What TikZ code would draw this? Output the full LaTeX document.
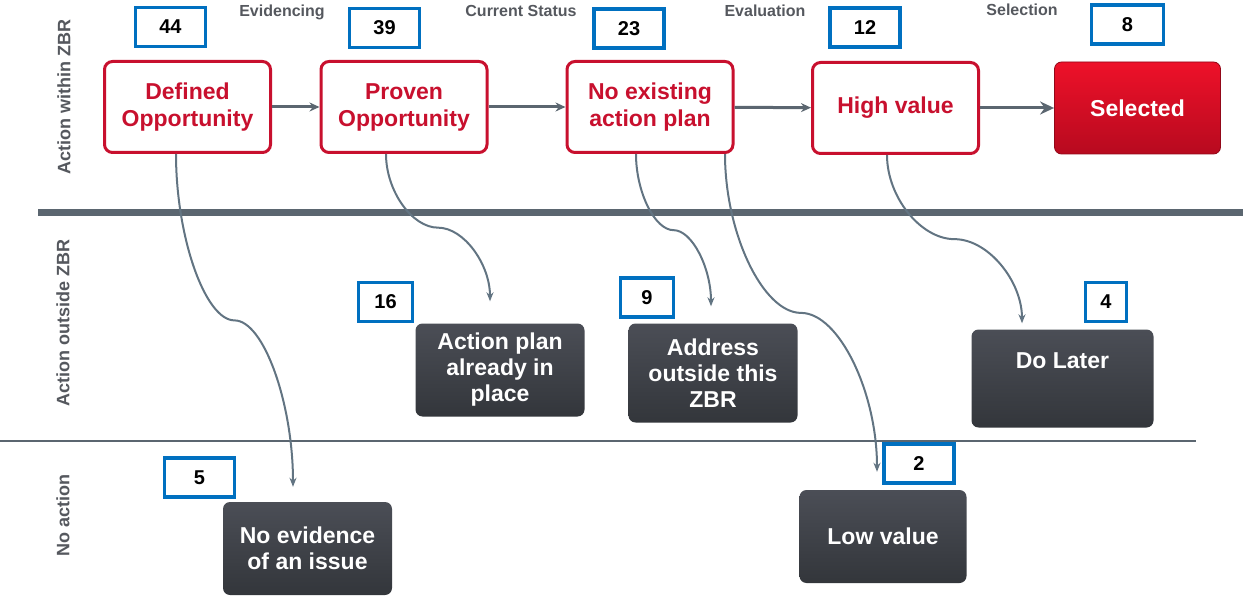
\documentclass[tikz,border=0pt]{standalone}
\usepackage{fontspec}
\setmainfont{Liberation Sans}
\usetikzlibrary{arrows.meta,calc}
\definecolor{zbrred}{HTML}{C8102E}
\definecolor{zbrblue}{HTML}{0070C0}
\definecolor{zbrgrey}{HTML}{5B6670}
\definecolor{linkgrey}{HTML}{627482}
\definecolor{labelgrey}{HTML}{55585E}
\definecolor{darktop}{HTML}{4B4E56}
\definecolor{darkbot}{HTML}{33363B}
\definecolor{seltop}{HTML}{EE1129}
\definecolor{selbot}{HTML}{B70A1F}
\tikzset{
  stage/.style={draw=zbrred,line width=3pt,rounded corners=8pt,fill=white,
    minimum width=166pt,minimum height=91pt,align=center,text=zbrred,
    font=\bfseries\fontsize{23}{27}\selectfont},
  chosen/.style={draw=selbot!80!black,line width=0.8pt,rounded corners=7pt,
    top color=seltop,bottom color=selbot,minimum width=166pt,minimum height=92pt,
    text=white,font=\bfseries\fontsize{23}{27}\selectfont},
  outcome/.style={rounded corners=7pt,top color=darktop,bottom color=darkbot,
    minimum width=169pt,minimum height=93pt,align=center,text=white,
    font=\bfseries\fontsize{23}{26}\selectfont},
  tally/.style={draw=zbrblue,line width=3.5pt,fill=white,minimum width=70pt,
    minimum height=39pt,inner sep=0pt,font=\bfseries\fontsize{20}{24}\selectfont},
  phase/.style={text=labelgrey,anchor=base,font=\bfseries\fontsize{16}{19}\selectfont},
  lane/.style={text=labelgrey,rotate=90,font=\bfseries\fontsize{18}{21}\selectfont},
  flow/.style={draw=zbrgrey,line width=3pt,-{Stealth[length=10pt,width=9pt]}},
  link/.style={draw=linkgrey,line width=2pt,-{Stealth[length=9pt,width=7pt]}}
}
% curved elbow connector: down, across at half height, down again
\newcommand{\hooklink}[2]{%
  \draw[link] let \p1=(#1), \p2=(#2) in
    (\p1) .. controls (\x1,{\y1+(\y2-\y1)/4}) and ({\x1+(\x2-\x1)/4},{(\y1+\y2)/2})
    .. ({(\x1+\x2)/2},{(\y1+\y2)/2})
    .. controls ({\x1+3*(\x2-\x1)/4},{(\y1+\y2)/2}) and (\x2,{\y2-(\y2-\y1)/4}) .. (\p2);}
\begin{document}
\begin{tikzpicture}[x=1pt,y=-1pt]
  \useasboundingbox (0,0) rectangle (1243,596);
  % lane separators
  \draw[zbrgrey,line width=7pt] (38,213) -- (1243,213);
  \draw[zbrgrey,line width=1.5pt] (0,441) -- (1196,441);
  % lane and phase labels
  \node[lane] (laneIn) at (64,97) {Action within ZBR};
  \node[lane] (laneOut) at (63,323) {Action outside ZBR};
  \node[lane] (laneNone) at (63,515) {No action};
  \node[phase] (phEvid) at (282,17) {Evidencing};
  \node[phase] (phStatus) at (521,17) {Current Status};
  \node[phase] (phEval) at (765,17) {Evaluation};
  \node[phase] (phSel) at (1022,16) {Selection};
  % main stages
  \node[stage] (Defined) at (187.5,107) {Defined\\Opportunity};
  \node[stage] (Proven) at (404,107) {Proven\\Opportunity};
  \node[stage] (NoPlan) at (650,107) {No existing\\action plan};
  \node[stage] (High) at (895.5,108) {High value};
  \node[chosen] (Selected) at (1137.5,108) {Selected};
  % outcomes
  \node[outcome] (ActionPlan) at (500,370) {Action plan\\already in\\place};
  \node[outcome,minimum height=99pt] (Address) at (713,373) {Address\\outside this\\ZBR};
  \node[outcome,minimum width=182pt,minimum height=98pt,text depth=36pt] (DoLater) at (1062.5,378.5) {Do Later};
  \node[outcome] (NoEvid) at (307.5,548.5) {No evidence\\of an issue};
  \node[outcome,minimum width=167pt] (LowValue) at (883,536.5) {Low value};
  % counts
  \node[tally] (n44) at (170.5,27) {44};
  \node[tally] (n39) at (384.5,28) {39};
  \node[tally] (n23) at (629,28.5) {23};
  \node[tally] (n12) at (865,27.5) {12};
  \node[tally,minimum width=72pt] (n8) at (1127.5,24.5) {8};
  \node[tally,minimum width=54pt] (n16) at (385.5,302) {16};
  \node[tally,minimum width=53pt] (n9) at (647,297.5) {9};
  \node[tally,minimum width=41pt] (n4) at (1106,302) {4};
  \node[tally] (n2) at (919,463.5) {2};
  \node[tally] (n5) at (199.5,477.5) {5};
  % flow along the top lane
  \draw[flow] (Defined) -- (Proven);
  \draw[flow] (Proven) -- (NoPlan);
  \draw[flow] (NoPlan) -- (High);
  \draw[flow,-{Stealth[length=14pt,width=13pt]}] (High) -- (Selected);
  % drop-outs
  \hooklink{[xshift=-11.5pt]Defined.south}{[xshift=-14.5pt,yshift=15pt]NoEvid.north}
  \hooklink{[xshift=-18pt]Proven.south}{[xshift=-10pt,yshift=22pt]ActionPlan.north}
  \hooklink{[xshift=-14pt]NoPlan.south}{[xshift=-2pt,yshift=17pt]Address.north}
  \hooklink{[xshift=75pt]NoPlan.south}{[xshift=-6pt,yshift=18pt]LowValue.north}
  \hooklink{[xshift=-8.5pt]High.south}{[xshift=-40.5pt,yshift=6pt]DoLater.north}
\end{tikzpicture}
\end{document}
